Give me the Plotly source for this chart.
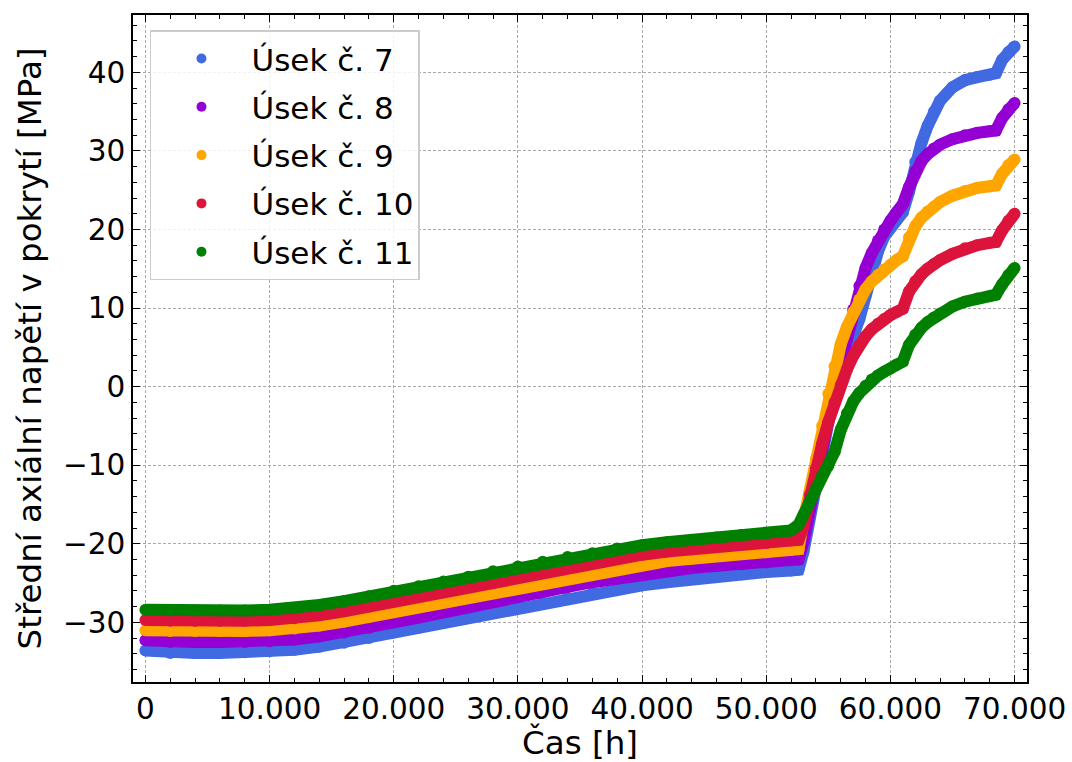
import plotly.graph_objects as go

# Time axis [h]
t_h = [0, 2000, 4000, 6000, 8000, 10000, 12000, 14000, 16000, 18000, 20000,
       22000, 24000, 26000, 28000, 30000, 32000, 34000, 36000, 38000, 40000,
       42000, 44000, 46000, 48000, 50000, 52000, 52600, 53000, 53500, 54000,
       54500, 55000, 55500, 56000, 56500, 57000, 57500, 58000, 58500, 59000,
       59500, 60000, 60500, 61000, 61500, 62000, 62500, 63000, 63500, 64000,
       65000, 66000, 67000, 68000, 68500, 69000, 69500, 70000]

# Mean axial stress in the cladding [MPa] for each segment
usek_7 = [-33.6, -33.9, -33.9, -33.9, -33.8, -33.7, -33.5, -33.1, -32.6, -32.0, -31.3,
          -30.7, -30.1, -29.4, -28.7, -28.1, -27.5, -26.9, -26.3, -25.8, -25.3,
          -24.9, -24.5, -24.2, -23.9, -23.6, -23.4, -23.3, -21.0, -16.5, -12.2,
          -8.2, -4.6, -1.4, 1.6, 4.2, 6.4, 8.6, 11.6, 14.6, 17.2,
          19.1, 20.3, 21.3, 22.2, 24.8, 28.6, 31.0, 33.2, 35.0, 36.4,
          38.1, 39.0, 39.4, 39.7, 39.9, 41.6, 42.6, 43.3]
usek_8 = [-32.3, -32.5, -32.5, -32.5, -32.5, -32.4, -32.2, -31.8, -31.3, -30.7, -30.0,
          -29.4, -28.7, -28.1, -27.4, -26.7, -26.1, -25.5, -24.9, -24.4, -23.9,
          -23.5, -23.1, -22.8, -22.6, -22.4, -22.1, -22.0, -19.8, -15.5, -11.2,
          -7.2, -3.6, -0.3, 3.0, 6.4, 9.8, 12.8, 15.1, 17.0, 18.6,
          20.0, 21.1, 22.2, 23.2, 25.4, 27.4, 28.7, 29.6, 30.3, 30.8,
          31.5, 32.0, 32.3, 32.5, 32.6, 34.2, 35.3, 36.1]
usek_9 = [-31.0, -31.1, -31.1, -31.1, -31.1, -31.0, -30.8, -30.4, -29.9, -29.3, -28.6,
          -28.0, -27.4, -26.8, -26.1, -25.5, -24.9, -24.3, -23.7, -23.1, -22.6,
          -22.2, -21.9, -21.6, -21.3, -21.1, -20.8, -20.7, -17.0, -13.3, -9.2,
          -5.0, -0.9, 2.6, 5.4, 7.6, 9.5, 11.1, 12.4, 13.4, 14.2,
          14.9, 15.5, 16.1, 16.6, 19.0, 20.4, 21.5, 22.3, 22.9, 23.5,
          24.3, 24.9, 25.3, 25.5, 25.6, 27.1, 28.2, 28.9]
usek_10 = [-29.7, -29.8, -29.8, -29.8, -29.8, -29.7, -29.5, -29.1, -28.6, -28.0, -27.3,
           -26.7, -26.1, -25.5, -24.8, -24.2, -23.6, -23.0, -22.4, -21.9, -21.4,
           -21.0, -20.7, -20.4, -20.1, -19.9, -19.6, -19.5, -17.8, -13.8, -10.4,
           -7.3, -4.5, -2.0, 0.2, 2.2, 3.9, 5.3, 6.4, 7.3, 8.0,
           8.6, 9.1, 9.5, 9.9, 12.1, 13.4, 14.3, 15.0, 15.6, 16.1,
           16.9, 17.6, 18.0, 18.3, 18.4, 19.9, 21.1, 22.0]
usek_11 = [-28.4, -28.5, -28.5, -28.5, -28.5, -28.4, -28.2, -27.8, -27.3, -26.7, -26.0,
           -25.4, -24.8, -24.2, -23.5, -22.9, -22.3, -21.7, -21.2, -20.6, -20.2,
           -19.8, -19.5, -19.2, -18.9, -18.7, -18.3, -17.6, -16.3, -14.8, -12.9,
           -11.3, -10.1, -8.3, -5.5, -3.4, -1.9, -0.8, 0.1, 0.9, 1.4,
           1.9, 2.3, 2.8, 3.2, 5.3, 6.6, 7.5, 8.2, 8.8, 9.3,
           10.2, 10.8, 11.2, 11.5, 11.7, 13.0, 14.2, 15.1]

series_names = ["Úsek č. 7", "Úsek č. 8", "Úsek č. 9", "Úsek č. 10", "Úsek č. 11"]
series_values = [usek_7, usek_8, usek_9, usek_10, usek_11]
series_colors = ["#4169E1", "#9400D3", "#FFA500", "#DC143C", "#008000"]

x_ticks = [0, 10000, 20000, 30000, 40000, 50000, 60000, 70000]
x_tick_labels = ["0", "10.000", "20.000", "30.000", "40.000", "50.000", "60.000", "70.000"]
y_ticks = [-30, -20, -10, 0, 10, 20, 30, 40]
y_tick_labels = ["\u221230", "\u221220", "\u221210", "0", "10", "20", "30", "40"]

FONT = "DejaVu Sans"
MARK = 12

fig = go.Figure()
for name, vals, col in zip(series_names, series_values, series_colors):
    fig.add_trace(go.Scatter(
        x=t_h, y=vals, mode="lines+markers", name=name, showlegend=False,
        line=dict(color=col, width=MARK),
        marker=dict(color=col, size=MARK, line=dict(width=0)),
        hoverinfo="x+y+name",
    ))
# legend entries: single dot per segment
for name, col in zip(series_names, series_colors):
    fig.add_trace(go.Scatter(
        x=[None], y=[None], mode="markers", name=name, legendgroup=name,
        marker=dict(color=col, size=10),
    ))

axis_common = dict(
    ticks="inside", ticklen=7, tickwidth=1.3, tickcolor="black",
    mirror="allticks", showline=True, linecolor="black", linewidth=1.6,
    showgrid=True, gridcolor="#a8a8a8", griddash="3px,2px", gridwidth=0.8,
    zeroline=False, automargin=False,
    tickfont=dict(family=FONT, size=29.5, color="black"),
)

fig.update_xaxes(
    range=[-1000, 71000], tickmode="array", tickvals=x_ticks, ticktext=x_tick_labels,
    minor=dict(tick0=0, dtick=2000, ticks="inside", ticklen=4, tickwidth=1.1,
               tickcolor="black", showgrid=False),
    title=dict(text="Čas [h]", font=dict(family=FONT, size=32.5, color="black"), standoff=4),
    ticklabelstandoff=0,
    **axis_common,
)
fig.update_yaxes(
    range=[-37.6, 47.3], tickmode="array", tickvals=y_ticks, ticktext=y_tick_labels,
    minor=dict(tick0=0, dtick=2, ticks="inside", ticklen=4, tickwidth=1.1,
               tickcolor="black", showgrid=False),
    title=dict(text="Střední axiální napětí v pokrytí [MPa]",
               font=dict(family=FONT, size=32.5, color="black"), standoff=12),
    ticklabelstandoff=0,
    **axis_common,
)

fig.update_layout(
    width=1072, height=762,
    margin=dict(l=133, r=45, t=15, b=80),
    paper_bgcolor="white", plot_bgcolor="white",
    font=dict(family=FONT, color="black"),
    legend=dict(
        x=0.019, y=0.977, xanchor="left", yanchor="top",
        bgcolor="rgba(255,255,255,0.85)", bordercolor="#cccccc", borderwidth=1.5,
        font=dict(family=FONT, size=31, color="black"),
        itemwidth=90, tracegroupgap=5,
    ),
)

fig.write_html("out.html")
